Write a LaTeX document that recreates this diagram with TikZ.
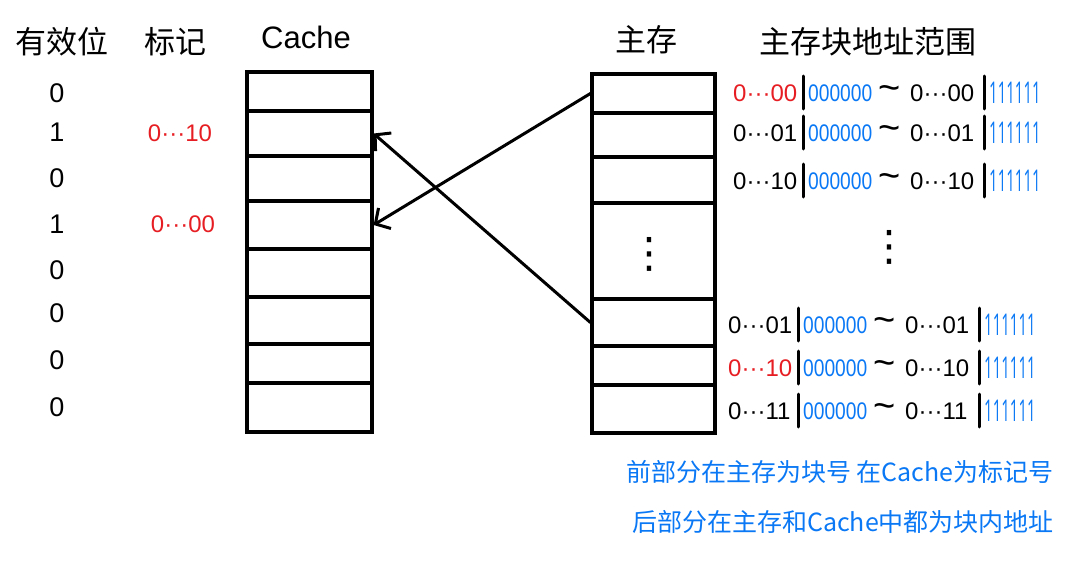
\documentclass[tikz,border=0pt]{standalone}
\usepackage{fontspec}
\usepackage{graphicx}
\setmainfont{Liberation Sans}
\newfontfamily\cjk{Noto Sans CJK SC}
\newfontfamily\dejavu{DejaVu Sans}
\newfontfamily\opens{Open Sans}
\usetikzlibrary{arrows.meta}
\definecolor{hred}{RGB}{230,30,35}
\definecolor{hblue}{RGB}{10,120,245}
\tikzset{
  ccell/.style={draw, line width=3.2pt, inner sep=0pt, minimum width=125pt, minimum height=#1},
  mcell/.style={draw, line width=3.2pt, inner sep=0pt, minimum width=123pt, minimum height=#1},
  hdr/.style={font=\cjk\fontsize{31}{36}\selectfont, inner sep=0pt},
  hdrlat/.style={font=\fontsize{31}{36}\selectfont, inner sep=0pt},
  bit/.style={font=\fontsize{27}{30}\selectfont, inner sep=0pt},
  tagtxt/.style={font=\fontsize{24}{28}\selectfont, text=hred, inner sep=0pt},
  addr/.style={font=\fontsize{24}{28}\selectfont, inner sep=0pt, anchor=west},
  tld/.style={font=\fontsize{38}{40}\selectfont, inner sep=0pt},
  ones/.style={font=\opens\fontsize{30}{34}\selectfont, inner sep=0pt, anchor=west, text=hblue},
  sepbar/.style={line width=3pt, line cap=round},
  conn/.style={line width=3pt, line cap=round, -{Straight Barb[length=11pt,width=24pt,line width=3pt]}},
  note/.style={font=\cjk\fontsize{25}{30}\selectfont, text=hblue, inner sep=0pt},
  vdot/.style={font=\dejavu\fontsize{42}{46}\selectfont, inner sep=0pt}
}
\begin{document}
\begin{tikzpicture}[x=1pt,y=-1pt]
\useasboundingbox (0,0) rectangle (1082,562);
% headers
\node[hdr] (h1) at (62,42) {有效位};
\node[hdr] (h2) at (175,42) {标记};
\node[hdrlat] (h3) at (306,37) {Cache};
\node[hdr] (h4) at (646,40) {主存};
\node[hdr] (h5) at (868,42) {主存块地址范围};
% cache cells
\node[ccell=39pt] (c1) at (309.5,91.5) {};
\node[ccell=45pt] (c2) at (309.5,133.5) {};
\node[ccell=45pt] (c3) at (309.5,178.5) {};
\node[ccell=48pt] (c4) at (309.5,225) {};
\node[ccell=48pt] (c5) at (309.5,273) {};
\node[ccell=47pt] (c6) at (309.5,320.5) {};
\node[ccell=39pt] (c7) at (309.5,363.5) {};
\node[ccell=49pt] (c8) at (309.5,407.5) {};
% main memory cells
\node[mcell=39pt] (m1) at (653.5,93.5) {};
\node[mcell=44pt] (m2) at (653.5,135) {};
\node[mcell=46pt] (m3) at (653.5,180) {};
\node[mcell=96pt] (m4) at (653.5,251) {};
\node[mcell=47pt] (m5) at (653.5,322.5) {};
\node[mcell=39pt] (m6) at (653.5,365.5) {};
\node[mcell=48pt] (m7) at (653.5,409) {};
\node[vdot] (d1) at (649,254) {⋮};
\node[vdot] (d2) at (889,247) {⋮};
% valid bits
\node[bit] (b1) at (57,93) {0};
\node[bit] (b2) at (57,132) {1};
\node[bit] (b3) at (57,178) {0};
\node[bit] (b4) at (57,224) {1};
\node[bit] (b5) at (57,270) {0};
\node[bit] (b6) at (57,313) {0};
\node[bit] (b7) at (57,360) {0};
\node[bit] (b8) at (57,407) {0};
% tags
\node[tagtxt] (t2) at (180,133) {0···10};
\node[tagtxt] (t4) at (183,224) {0···00};
% connectors
\draw[conn] (m1.west) -- (c4.east);
\draw[conn] (m5.west) -- (c2.east);
% address rows
\foreach \i/\y/\dx/\pc/\pre/\suf in {1/93/0/hred/0···00/0···00, 2/133/0/black/0···01/0···01, 3/181/0/black/0···10/0···10, 4/325/-5/black/0···01/0···01, 5/368/-5/hred/0···10/0···10, 6/411/-5/black/0···11/0···11}{
  \node[addr, text=\pc] (p\i) at (733+\dx,\y) {\pre};
  \draw[sepbar] (803+\dx,\y-17) -- (803+\dx,\y+16);
  \node[addr, text=hblue] (z\i) at (808+\dx,\y) {\scalebox{0.8}[1]{000000}};
  \node[tld] (w\i) at (890+\dx,\y) {\textasciitilde};
  \node[addr] (s\i) at (910+\dx,\y) {\suf};
  \draw[sepbar] (984+\dx,\y-17) -- (984+\dx,\y+16);
  \node[ones] (o\i) at (989+\dx,\y) {\scalebox{0.5}[1]{111111}};
}
% notes
\node[note] (n1) at (840,472) {前部分在主存为块号 在Cache为标记号};
\node[note] (n2) at (843,522) {后部分在主存和Cache中都为块内地址};
\end{tikzpicture}
\end{document}
